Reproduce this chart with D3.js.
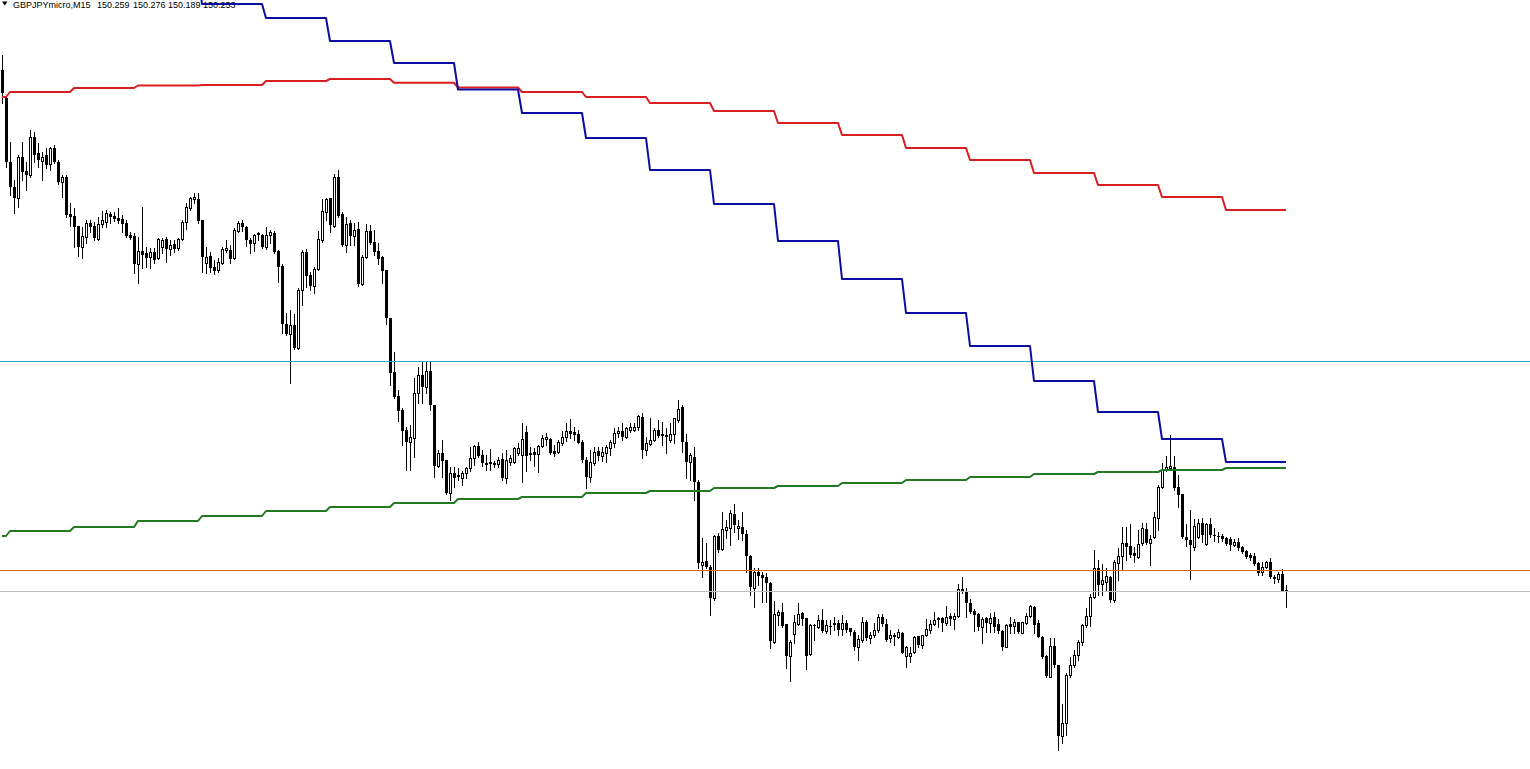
<!DOCTYPE html>
<html>
<head>
<meta charset="utf-8">
<script src="https://cdn.jsdelivr.net/npm/d3@7/dist/d3.min.js"></script>
<style>
html,body{margin:0;padding:0;background:#fff;overflow:hidden;}
svg{display:block;}
</style>
</head>
<body>
<svg id="chart" width="1530" height="769"></svg>
<script>
// ---- DATA (GBPJPYmicro, M15) ----
const symbolLabel = "GBPJPYmicro,M15";
const headerValues = ["150.259", "150.276", "150.189", "150.253"];

const opens = [
152.337,152.225,151.969,151.869,151.825,151.989,151.933,151.917,152.069,152.005,
151.973,151.997,151.961,152.025,151.969,151.889,151.909,151.761,151.753,151.713,
151.629,151.669,151.725,151.713,151.661,151.721,151.729,151.761,151.753,151.745,
151.741,151.725,151.677,151.673,151.561,151.613,151.605,151.589,151.609,151.585,
151.629,151.661,151.621,151.641,151.625,151.661,151.729,151.785,151.821,151.821,
151.737,151.565,151.593,151.549,151.537,151.565,151.617,151.617,151.585,151.693,
151.725,151.709,151.657,151.645,151.685,151.677,151.629,151.677,151.685,151.613,
151.553,151.321,151.281,151.317,151.225,151.457,151.609,151.517,151.473,151.541,
151.657,151.769,151.825,151.713,151.909,151.761,151.637,151.725,151.673,151.701,
151.481,151.589,151.693,151.649,151.613,151.589,151.537,151.345,151.129,151.033,
150.977,150.897,150.849,150.865,151.045,151.117,151.069,151.133,150.997,150.753,
150.805,150.777,150.645,150.725,150.717,150.705,150.725,150.745,150.785,150.833,
150.797,150.765,150.769,150.765,150.761,150.781,150.705,150.769,150.769,150.805,
150.797,150.889,150.805,150.809,150.801,150.833,150.861,150.861,150.813,150.809,
150.845,150.869,150.893,150.889,150.881,150.849,150.777,150.709,150.765,150.813,
150.793,150.805,150.825,150.845,150.885,150.893,150.869,150.897,150.897,150.909,
150.949,150.817,150.841,150.857,150.897,150.881,150.877,150.857,150.881,150.937,
150.989,150.849,150.769,150.789,150.689,150.357,150.373,150.349,150.225,150.473,
150.421,150.497,150.505,150.561,150.505,150.509,150.481,150.393,150.265,150.329,
150.317,150.309,150.285,150.049,150.157,150.169,150.121,149.993,150.081,150.121,
150.165,150.145,150.001,150.113,150.109,150.137,150.093,150.113,150.125,150.125,
150.101,150.125,150.105,150.089,150.029,150.057,150.129,150.065,150.077,150.097,
150.149,150.121,150.065,150.077,150.069,150.085,149.993,149.993,150.009,150.073,
150.037,150.077,150.097,150.121,150.145,150.145,150.125,150.153,150.141,150.153,
150.261,150.253,150.205,150.173,150.161,150.109,150.145,150.125,150.149,150.121,
150.093,150.029,150.121,150.113,150.129,150.085,150.125,150.153,150.189,150.125,
150.069,149.993,149.909,150.033,149.957,149.673,149.725,149.917,149.957,149.997,
150.049,150.117,150.153,150.229,150.345,150.281,150.289,150.309,150.217,150.365,
150.393,150.445,150.433,150.405,150.389,150.445,150.501,150.445,150.469,150.545,
150.669,150.737,150.745,150.749,150.669,150.641,150.469,150.457,150.429,150.469,
150.525,150.441,150.521,150.477,150.473,150.473,150.465,150.461,150.437,150.449,
150.429,150.413,150.397,150.393,150.365,150.329,150.349,150.369,150.309,150.301,
150.321,150.259
];

const highs = [
152.397,152.233,152.049,151.897,151.997,152.049,151.969,152.097,152.089,152.045,
152.009,152.025,152.029,152.037,151.977,151.917,151.917,151.805,151.785,151.713,
151.709,151.737,151.737,151.729,151.749,151.773,151.777,151.769,151.769,151.785,
151.757,151.737,151.689,151.685,151.669,151.789,151.629,151.625,151.625,151.665,
151.665,151.669,151.657,151.657,151.665,151.737,151.805,151.829,151.845,151.845,
151.737,151.629,151.609,151.577,151.585,151.629,151.657,151.637,151.705,151.733,
151.737,151.713,151.665,151.681,151.689,151.681,151.709,151.697,151.693,151.617,
151.561,151.365,151.377,151.361,151.465,151.617,151.621,151.529,151.549,151.693,
151.821,151.825,151.825,151.921,151.937,151.769,151.749,151.737,151.725,151.729,
151.597,151.721,151.717,151.697,151.645,151.593,151.537,151.345,151.209,151.057,
150.985,150.909,150.917,151.105,151.149,151.169,151.169,151.169,150.997,150.817,
150.857,150.777,150.749,150.749,150.745,150.733,150.749,150.829,150.837,150.849,
150.817,150.797,150.821,150.773,150.789,150.805,150.817,150.797,150.829,150.845,
150.925,150.913,150.829,150.825,150.837,150.877,150.885,150.865,150.837,150.857,
150.893,150.925,150.941,150.909,150.897,150.857,150.789,150.817,150.829,150.829,
150.829,150.837,150.857,150.905,150.909,150.925,150.909,150.925,150.925,150.957,
150.965,150.869,150.945,150.905,150.937,150.929,150.905,150.925,150.945,151.017,
150.997,150.881,150.805,150.829,150.697,150.465,150.445,150.357,150.477,150.485,
150.569,150.537,150.577,150.601,150.537,150.569,150.497,150.397,150.345,150.345,
150.329,150.325,150.289,150.213,150.177,150.205,150.121,150.057,150.157,150.205,
150.169,150.145,150.121,150.121,150.157,150.181,150.137,150.137,150.149,150.137,
150.157,150.137,150.105,150.097,150.077,150.149,150.137,150.089,150.125,150.161,
150.161,150.141,150.097,150.085,150.101,150.089,150.033,150.029,150.073,150.073,
150.077,150.141,150.137,150.169,150.149,150.149,150.193,150.165,150.165,150.281,
150.309,150.265,150.221,150.181,150.165,150.149,150.149,150.165,150.169,150.141,
150.097,150.121,150.149,150.141,150.129,150.129,150.165,150.197,150.193,150.137,
150.073,149.997,150.065,150.065,149.957,149.801,149.925,149.989,150.017,150.057,
150.121,150.185,150.241,150.417,150.377,150.361,150.345,150.313,150.377,150.425,
150.509,150.509,150.521,150.429,150.497,150.525,150.525,150.477,150.569,150.677,
150.765,150.793,150.877,150.793,150.717,150.641,150.521,150.577,150.541,150.541,
150.545,150.525,150.545,150.505,150.489,150.481,150.469,150.469,150.461,150.465,
150.433,150.417,150.405,150.405,150.369,150.369,150.373,150.385,150.317,150.329,
150.341,150.276
];

const lows = [
152.205,151.949,151.837,151.765,151.789,151.897,151.857,151.909,151.969,151.949,
151.897,151.945,151.937,151.965,151.881,151.829,151.749,151.713,151.629,151.593,
151.585,151.645,151.689,151.657,151.657,151.709,151.709,151.725,151.733,151.725,
151.689,151.669,151.661,151.525,151.485,151.545,151.549,151.545,151.565,151.581,
151.605,151.569,151.597,151.609,151.617,151.657,151.701,151.777,151.805,151.725,
151.529,151.525,151.529,151.521,151.529,151.561,151.609,151.565,151.581,151.689,
151.693,151.633,151.605,151.613,151.657,151.625,151.621,151.645,151.605,151.489,
151.285,151.277,151.085,151.221,151.221,151.397,151.469,151.457,151.445,151.537,
151.649,151.737,151.689,151.709,151.749,151.633,151.609,151.637,151.637,151.473,
151.477,151.585,151.641,151.597,151.561,151.485,151.321,151.077,151.025,150.933,
150.837,150.737,150.737,150.789,151.005,151.005,151.045,150.977,150.709,150.749,
150.709,150.641,150.617,150.669,150.697,150.677,150.705,150.733,150.757,150.789,
150.753,150.737,150.737,150.749,150.749,150.697,150.685,150.757,150.765,150.797,
150.689,150.733,150.777,150.753,150.729,150.829,150.837,150.801,150.793,150.805,
150.837,150.853,150.865,150.857,150.845,150.769,150.665,150.689,150.757,150.777,
150.773,150.769,150.797,150.829,150.869,150.857,150.865,150.889,150.893,150.897,
150.785,150.797,150.837,150.853,150.869,150.837,150.805,150.849,150.845,150.929,
150.809,150.705,150.697,150.617,150.345,150.309,150.345,150.157,150.217,150.409,
150.417,150.465,150.437,150.489,150.461,150.457,150.329,150.237,150.189,150.277,
150.209,150.209,150.025,150.045,150.117,150.109,149.945,149.893,150.045,150.117,
150.117,149.941,149.997,150.057,150.105,150.089,150.085,150.081,150.097,150.077,
150.077,150.089,150.077,150.017,149.977,150.049,150.057,150.045,150.069,150.089,
150.113,150.053,150.049,150.037,150.065,150.005,149.949,149.969,150.005,150.029,
150.025,150.073,150.085,150.117,150.109,150.093,150.117,150.117,150.101,150.149,
150.245,150.149,150.165,150.093,150.097,150.045,150.089,150.089,150.089,150.085,
150.017,150.029,150.085,150.085,150.085,150.085,150.121,150.149,150.085,150.069,
149.985,149.909,149.909,149.949,149.617,149.645,149.677,149.909,149.949,149.977,
150.037,150.109,150.113,150.225,150.237,150.237,150.257,150.209,150.209,150.297,
150.337,150.377,150.389,150.369,150.385,150.437,150.441,150.357,150.465,150.497,
150.665,150.733,150.737,150.657,150.589,150.465,150.433,150.301,150.417,150.465,
150.449,150.437,150.469,150.453,150.449,150.453,150.437,150.417,150.433,150.417,
150.405,150.385,150.377,150.357,150.317,150.317,150.345,150.305,150.285,150.289,
150.253,150.189
];

const closes = [
152.245,151.969,151.869,151.825,151.989,151.929,151.917,152.069,151.997,151.977,
151.989,151.957,152.025,151.969,151.889,151.909,151.757,151.749,151.709,151.629,
151.673,151.725,151.709,151.665,151.721,151.737,151.765,151.749,151.741,151.733,
151.721,151.673,151.665,151.561,151.613,151.597,151.585,151.609,151.577,151.661,
151.657,151.621,151.637,151.621,151.661,151.729,151.789,151.825,151.829,151.733,
151.589,151.589,151.545,151.533,151.569,151.621,151.625,151.581,151.697,151.725,
151.709,151.657,151.641,151.677,151.677,151.629,151.677,151.689,151.609,151.549,
151.321,151.281,151.317,151.225,151.457,151.609,151.513,151.473,151.541,151.661,
151.773,151.821,151.717,151.909,151.753,151.637,151.721,151.673,151.697,151.481,
151.589,151.693,151.645,151.609,151.581,151.533,151.345,151.125,151.029,150.973,
150.893,150.849,150.869,151.045,151.117,151.069,151.133,150.997,150.753,150.805,
150.773,150.645,150.725,150.705,150.709,150.725,150.745,150.785,150.833,150.793,
150.765,150.757,150.761,150.757,150.777,150.705,150.777,150.785,150.825,150.825,
150.861,150.793,150.797,150.797,150.833,150.865,150.869,150.805,150.801,150.849,
150.869,150.893,150.881,150.877,150.845,150.777,150.709,150.769,150.809,150.793,
150.809,150.829,150.849,150.885,150.893,150.869,150.905,150.909,150.909,150.953,
150.817,150.845,150.857,150.897,150.873,150.873,150.869,150.881,150.945,150.981,
150.849,150.769,150.797,150.689,150.365,150.369,150.349,150.225,150.473,150.417,
150.501,150.509,150.565,150.517,150.513,150.481,150.393,150.269,150.329,150.313,
150.305,150.285,150.053,150.161,150.169,150.113,149.993,150.049,150.129,150.161,
150.141,149.993,150.117,150.117,150.137,150.093,150.117,150.109,150.117,150.097,
150.125,150.097,150.089,150.029,150.061,150.129,150.065,150.077,150.097,150.149,
150.121,150.057,150.077,150.069,150.089,150.005,150.029,150.005,150.069,150.037,
150.077,150.101,150.121,150.137,150.137,150.125,150.149,150.141,150.153,150.261,
150.249,150.205,150.169,150.157,150.109,150.141,150.125,150.145,150.109,150.093,
150.029,150.117,150.109,150.129,150.089,150.129,150.153,150.193,150.117,150.069,
149.989,149.913,150.033,149.957,149.673,149.725,149.917,149.957,149.997,150.049,
150.117,150.153,150.229,150.345,150.277,150.297,150.313,150.217,150.369,150.393,
150.445,150.429,150.397,150.393,150.441,150.505,150.445,150.461,150.549,150.669,
150.737,150.749,150.753,150.665,150.637,150.469,150.457,150.437,150.513,150.525,
150.477,150.521,150.477,150.473,150.469,150.461,150.441,150.437,150.449,150.425,
150.409,150.389,150.385,150.361,150.325,150.349,150.369,150.309,150.301,150.321,
150.253,150.253
];

// indicator levels, one value per 16-bar (H4) block; first entry = block before the first full one
const blueLevels = [153.017,152.937,152.837,152.729,152.601,152.545,152.453,152.365,152.259,152.165,
  152.065,151.937,151.801,151.653,151.501,151.365,151.233,151.093,150.969,150.861,150.769];
const redLevels = [152.229,152.249,152.265,152.275,152.277,152.293,152.301,152.286,152.267,152.249,
  152.229,152.205,152.173,152.125,152.077,152.025,151.977,151.925,151.877,151.829,151.777];
const greenLevels = [150.473,150.493,150.509,150.533,150.553,150.573,150.589,150.605,150.621,150.629,
  150.645,150.653,150.665,150.673,150.685,150.697,150.709,150.721,150.729,150.737,150.745];

// horizontal price levels
const hLevels = [
  {price: 151.173, color: "#1ab0c4"},
  {price: 150.337, color: "#d2691e"},
  {price: 150.253, color: "#c0c0c0"}
];

// ---- DRAW ----
const W = 1530, H = 769;
const svg = d3.select("#chart");
svg.append("rect").attr("width", W).attr("height", H).attr("fill", "#ffffff");

const n = closes.length;
const x = d3.scaleLinear().domain([0, n - 1]).range([2, 1286]);
const y = d3.scaleLinear().domain([152.617, 149.541]).range([0, H]);

const candles = d3.range(n).map(i => ({i, o: opens[i], h: highs[i], l: lows[i], c: closes[i]}));

// header
const hdr = svg.append("g").attr("font-family", "'Liberation Sans', Arial, sans-serif")
  .attr("font-size", 9).attr("fill", "#000");
hdr.append("path").attr("d", "M2,1.5 L7.5,1.5 L4.75,5.5 Z").attr("fill", "#000");
hdr.append("text").attr("x", 13).attr("y", 8).text(symbolLabel);
const hx = [97, 133, 168, 203];
headerValues.forEach((v, k) => hdr.append("text").attr("x", hx[k]).attr("y", 8).text(v));

// candles
const cg = svg.append("g").attr("shape-rendering", "crispEdges");
cg.selectAll("line.wick").data(candles).join("line")
  .attr("class", "wick")
  .attr("x1", d => Math.round(x(d.i)) + 0.5).attr("x2", d => Math.round(x(d.i)) + 0.5)
  .attr("y1", d => Math.round(y(d.h))).attr("y2", d => Math.round(y(d.l)) + 1)
  .attr("stroke", "#000").attr("stroke-width", 1);

candles.forEach(d => {
  const cx = Math.round(x(d.i));
  const top = Math.round(y(Math.max(d.o, d.c)));
  const bot = Math.round(y(Math.min(d.o, d.c)));
  if (d.c < d.o) {
    cg.append("rect").attr("x", cx - 1).attr("y", top)
      .attr("width", 3).attr("height", Math.max(bot - top, 1)).attr("fill", "#000");
  } else if (bot - top >= 2) {
    cg.append("rect").attr("x", cx - 0.5).attr("y", top + 0.5)
      .attr("width", 2).attr("height", bot - top)
      .attr("fill", "#fff").attr("stroke", "#000").attr("stroke-width", 1);
  } else {
    cg.append("rect").attr("x", cx - 1).attr("y", top)
      .attr("width", 3).attr("height", Math.max(bot - top, 1)).attr("fill", "#000");
  }
});

// horizontal lines
svg.selectAll("line.hl").data(hLevels).join("line")
  .attr("class", "hl")
  .attr("x1", 0).attr("x2", W)
  .attr("y1", d => Math.round(y(d.price)) + 0.5).attr("y2", d => Math.round(y(d.price)) + 0.5)
  .attr("stroke", d => d.color).attr("stroke-width", 1);

// step indicator lines
const blockOf = i => (i < 2 ? 0 : Math.floor((i - 2) / 16) + 1);
const line = d3.line().x(d => x(d[0])).y(d => y(d[1]));
[[greenLevels, "#217a21"], [redLevels, "#d81e1e"], [blueLevels, "#0c0ca0"]].forEach(([lv, col]) => {
  const pts = d3.range(n).map(i => [i, lv[blockOf(i)]]);
  svg.append("path").attr("d", line(pts)).attr("fill", "none")
    .attr("stroke", col).attr("stroke-width", 2).attr("stroke-linejoin", "round");
});
</script>
</body>
</html>
